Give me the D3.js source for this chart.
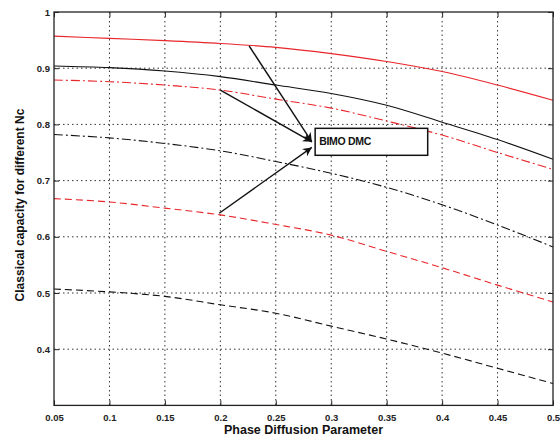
<!DOCTYPE html>
<html>
<head>
<meta charset="utf-8">
<script src="https://cdn.jsdelivr.net/npm/d3@7"></script>
<style>
  html, body { margin: 0; padding: 0; background: #fff; }
  svg { display: block; font-family: "Liberation Sans", Arial, sans-serif; }
</style>
</head>
<body>
<svg id="chart" width="560" height="441"></svg>
<script>
// ---- data ----
const xValues = [0.05, 0.1, 0.15, 0.2, 0.25, 0.3, 0.35, 0.4, 0.45, 0.5];
const redSolid    = [0.957, 0.953, 0.949, 0.944, 0.937, 0.926, 0.912, 0.894, 0.870, 0.843];
const blackSolid  = [0.904, 0.901, 0.895, 0.885, 0.870, 0.855, 0.834, 0.804, 0.773, 0.738];
const redDashDot  = [0.879, 0.876, 0.870, 0.861, 0.845, 0.829, 0.806, 0.781, 0.750, 0.720];
const blackDashDot= [0.782, 0.776, 0.766, 0.753, 0.734, 0.713, 0.688, 0.657, 0.621, 0.582];
const redDashed   = [0.668, 0.662, 0.651, 0.639, 0.622, 0.603, 0.574, 0.545, 0.514, 0.484];
const blackDashed = [0.507, 0.502, 0.494, 0.479, 0.464, 0.441, 0.418, 0.393, 0.366, 0.339];
const xTicks = [0.05, 0.1, 0.15, 0.2, 0.25, 0.3, 0.35, 0.4, 0.45, 0.5];
const yTicks = [0.4, 0.5, 0.6, 0.7, 0.8, 0.9, 1];
const xTickLabels = ["0.05","0.1","0.15","0.2","0.25","0.3","0.35","0.4","0.45","0.5"];
const yTickLabels = ["0.4","0.5","0.6","0.7","0.8","0.9","1"];
const annotationText = "BIMO DMC";
const arrowStarts = [[0.226, 0.9395], [0.2, 0.861], [0.199, 0.642]];
const arrowEnds   = [[0.2825, 0.769], [0.2825, 0.769], [0.2825, 0.759]];
const annotationBox = [0.2855, 0.387, 0.745, 0.793]; // x0, x1, y0, y1

// ---- layout ----
const svg = d3.select("#chart");
const L = 54, R = 553, T = 12, B = 405.4;
const x = d3.scaleLinear().domain([0.05, 0.5]).range([L, R]);
const y = d3.scaleLinear().domain([0.3, 1]).range([B, T]);

// grid
const grid = svg.append("g");
grid.selectAll(".gx").data(xTicks.slice(1, -1)).enter().append("line")
  .attr("x1", d => x(d)).attr("x2", d => x(d)).attr("y1", T).attr("y2", B)
  .attr("stroke", "#333").attr("stroke-width", 1).attr("stroke-dasharray", "1.5,3");
grid.selectAll(".gy").data(yTicks.slice(0, -1)).enter().append("line")
  .attr("x1", L).attr("x2", R).attr("y1", d => y(d)).attr("y2", d => y(d))
  .attr("stroke", "#333").attr("stroke-width", 1).attr("stroke-dasharray", "1.5,3");

// series
const series = [
  { v: redSolid, c: "#e8262b", dash: null },
  { v: blackSolid, c: "#111", dash: null },
  { v: redDashDot, c: "#e8262b", dash: "9,3,2,3" },
  { v: blackDashDot, c: "#111", dash: "9,3,2,3" },
  { v: redDashed, c: "#e8262b", dash: "7,4" },
  { v: blackDashed, c: "#111", dash: "7,4" }
];
const line = d3.line().x(d => x(d[0])).y(d => y(d[1])).curve(d3.curveCatmullRom.alpha(0.5));
series.forEach(s => {
  svg.append("path")
    .datum(xValues.map((xv, i) => [xv, s.v[i]]))
    .attr("d", line)
    .attr("fill", "none")
    .attr("stroke", s.c)
    .attr("stroke-width", 1.1)
    .attr("stroke-dasharray", s.dash);
});

// axes
const xAxis = d3.axisBottom(x).tickValues(xTicks).tickFormat((d, i) => xTickLabels[i]).tickSizeInner(-5).tickSizeOuter(0).tickPadding(9);
const yAxis = d3.axisLeft(y).tickValues(yTicks).tickFormat((d, i) => yTickLabels[i]).tickSizeInner(-5).tickSizeOuter(0).tickPadding(4);
const gx = svg.append("g").attr("transform", `translate(0,${B})`).call(xAxis);
const gy = svg.append("g").attr("transform", `translate(${L},0)`).call(yAxis);
const gxt = svg.append("g").attr("transform", `translate(0,${T})`).call(d3.axisTop(x).tickValues(xTicks).tickFormat("").tickSizeInner(-5).tickSizeOuter(0));
const gyr = svg.append("g").attr("transform", `translate(${R},0)`).call(d3.axisRight(y).tickValues(yTicks).tickFormat("").tickSizeInner(-5).tickSizeOuter(0));
[gx, gy, gxt, gyr].forEach(g => {
  g.select(".domain").remove();
  g.selectAll("line").attr("stroke", "#222");
  g.selectAll("text").attr("font-size", 9.5).attr("font-weight", "bold").attr("fill", "#222")
    .attr("font-family", "'Liberation Sans', Arial, sans-serif");
});
svg.append("rect").attr("x", L).attr("y", T).attr("width", R - L).attr("height", B - T)
  .attr("fill", "none").attr("stroke", "#222").attr("stroke-width", 1.3);

// annotation
svg.append("defs").append("marker")
  .attr("id", "arrow").attr("viewBox", "0 0 10 10").attr("refX", 10).attr("refY", 5)
  .attr("markerWidth", 9).attr("markerHeight", 9).attr("orient", "auto")
  .attr("markerUnits", "userSpaceOnUse")
  .append("path").attr("d", "M0,0 L10,5 L0,10 L3,5 Z").attr("fill", "#111");
arrowStarts.forEach((s, i) => {
  svg.append("line")
    .attr("x1", x(s[0])).attr("y1", y(s[1]))
    .attr("x2", x(arrowEnds[i][0])).attr("y2", y(arrowEnds[i][1]))
    .attr("stroke", "#111").attr("stroke-width", 1.4)
    .attr("marker-end", "url(#arrow)");
});
svg.append("rect")
  .attr("x", x(annotationBox[0])).attr("y", y(annotationBox[3]))
  .attr("width", x(annotationBox[1]) - x(annotationBox[0]))
  .attr("height", y(annotationBox[2]) - y(annotationBox[3]))
  .attr("fill", "#fff").attr("stroke", "#111").attr("stroke-width", 1.5);
svg.append("text")
  .attr("x", x(annotationBox[0]) + 4)
  .attr("y", (y(annotationBox[2]) + y(annotationBox[3])) / 2 + 3)
  .attr("font-size", 10.5).attr("font-weight", "bold").attr("fill", "#111")
  .attr("letter-spacing", -0.3)
  .text(annotationText);

// axis labels
svg.append("text").attr("x", (L + R) / 2).attr("y", 434)
  .attr("text-anchor", "middle").attr("font-size", 12.5).attr("font-weight", "bold").attr("fill", "#111")
  .text("Phase Diffusion Parameter");
svg.append("text").attr("transform", `translate(24,205) rotate(-90)`)
  .attr("text-anchor", "middle").attr("font-size", 12).attr("font-weight", "bold").attr("fill", "#111")
  .text("Classical capacity for different Nc");
</script>
</body>
</html>
